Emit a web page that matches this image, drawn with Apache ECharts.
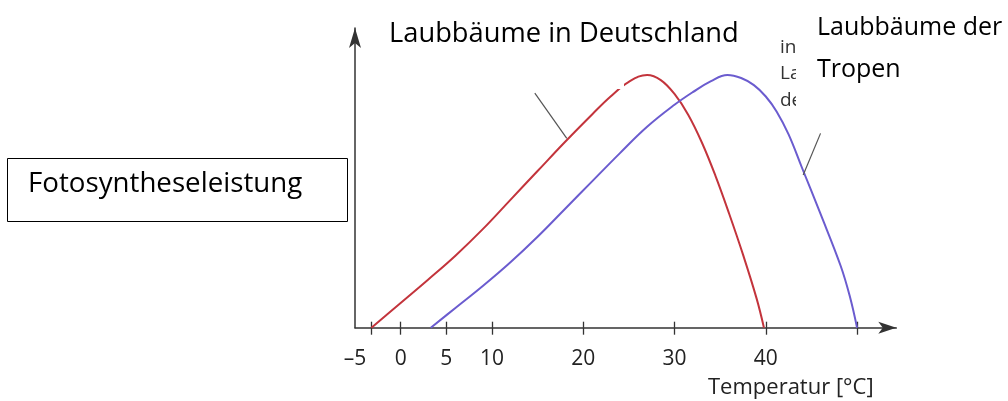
<!DOCTYPE html>
<html><head><meta charset="utf-8">
<script src="https://cdn.jsdelivr.net/npm/echarts@6/dist/echarts.min.js"></script>
<style>html,body{margin:0;padding:0;background:#fff}#c{width:1008px;height:401px}</style>
</head><body><div id="c"></div>
<script>
// Data (x = temperature in °C, y = relative photosynthesis, peak = 100)
const redTemps   = [-3.2, 0, 3, 6, 9, 12, 15, 18, 21, 23, 25, 27, 28.5, 30, 31.5, 33, 34.5, 36, 37.5, 39, 39.8];
const redValues  = [0, 9.8, 19, 28.5, 39, 50.5, 62, 73.5, 84.5, 91.5, 97.3, 100, 98, 92.5, 84.3, 73.3, 60, 45, 29, 11.5, 0];
const blueTemps  = [3.3, 6, 9, 12, 15, 18, 21, 24, 27, 30, 32, 34, 35.8, 37.3, 38.7, 40, 41.2, 42.5, 44, 46, 48.2, 49.2, 50];
const blueValues = [0, 7.8, 16.5, 25.8, 36, 47, 58, 69, 79.5, 88.2, 93.2, 97.6, 100, 98.8, 96, 91.5, 85.5, 76.5, 63, 45, 24.5, 12.5, 0];
const tickValues  = [-3.2, 0, 5, 10, 20, 30, 40, 50];
const labelValues = [-5, 0, 5, 10, 20, 30, 40];
const pointerRed  = [[14.7, 92.8], [18.2, 74.9]];
const pointerBlue = [[46.0, 76.9], [44.1, 60.4]];
const labelRed   = 'Laubbäume in Deutschland';
const labelBlue1 = 'Laubbäume der';
const labelBlue2 = 'Tropen';
const yTitle = 'Fotosyntheseleistung';
const xTitle = 'Temperatur [°C]';
const fragments = ['in', 'La', 'de'];

const zip = (a, b) => a.map((v, i) => [v, b[i]]);
const axisColor = '#333';
const labelFont = '"Open Sans", sans-serif';
const bigFont = '"Open Sans", sans-serif';

const chart = echarts.init(document.getElementById('c'), null, {renderer: 'canvas'});
const option = {
  animation: false,
  backgroundColor: '#fff',
  grid: {left: 355, right: 111.7, top: 28, bottom: 73.3, containLabel: false},
  xAxis: [{
    type: 'value', min: -5, max: 54.3,
    axisLine: {show: true, onZero: false, lineStyle: {color: axisColor, width: 1.5}, symbol: ['none', 'arrow'], symbolSize: [9, 18]},
    axisTick: {show: true, length: 7, lineStyle: {color: axisColor, width: 1.3}, customValues: tickValues},
    axisLabel: {show: true, customValues: labelValues, margin: 21, color: '#222', fontSize: 21, fontFamily: labelFont,
      formatter: v => (v < 0 ? '\u2013' + Math.abs(v) : String(v))},
    splitLine: {show: false}
  }, {
    type: 'value', min: -5, max: 54.3, position: 'bottom',
    axisLine: {show: false, onZero: false},
    axisTick: {show: true, inside: true, length: 6, lineStyle: {color: axisColor, width: 1.3}, customValues: tickValues},
    axisLabel: {show: false},
    splitLine: {show: false}
  }],
  yAxis: {
    type: 'value', min: 0, max: 118.6,
    axisLine: {show: true, onZero: false, lineStyle: {color: axisColor, width: 1.5}, symbol: ['none', 'arrow'], symbolSize: [9, 20]},
    axisTick: {show: false}, axisLabel: {show: false}, splitLine: {show: false}
  },
  series: [{
    type: 'line', data: zip(redTemps, redValues), smooth: 0.4, showSymbol: false,
    lineStyle: {color: '#c3343c', width: 2}, z: 3,
    markLine: {silent: true, symbol: 'none', label: {show: false},
      lineStyle: {color: '#555', width: 1.2, type: 'solid'},
      data: [[{coord: pointerRed[0]}, {coord: pointerRed[1]}]]}
  }, {
    type: 'line', data: zip(blueTemps, blueValues), smooth: 0.4, showSymbol: false,
    lineStyle: {color: '#6b5ccf', width: 2}, z: 3,
    markLine: {silent: true, symbol: 'none', label: {show: false},
      lineStyle: {color: '#555', width: 1.2, type: 'solid'},
      data: [[{coord: pointerBlue[0]}, {coord: pointerBlue[1]}]]}
  }],
  graphic: [
    {type: 'rect', z: 100, shape: {x: 380, y: 0, width: 244, height: 89}, style: {fill: '#fff'}},
    {type: 'text', z: 101, x: 780, y: 48, style: {text: fragments[0], font: '19px ' + labelFont, fill: '#333', verticalAlign: 'middle'}},
    {type: 'text', z: 101, x: 780, y: 74, style: {text: fragments[1], font: '19px ' + labelFont, fill: '#333', verticalAlign: 'middle'}},
    {type: 'text', z: 101, x: 780, y: 101, style: {text: fragments[2], font: '19px ' + labelFont, fill: '#333', verticalAlign: 'middle'}},
    {type: 'rect', z: 102, shape: {x: 796, y: 0, width: 212, height: 120}, style: {fill: '#fff'}},
    {type: 'text', z: 103, x: 389, y: 34, style: {text: labelRed, font: '27.3px ' + bigFont, fill: '#000', verticalAlign: 'middle'}},
    {type: 'text', z: 103, x: 817, y: 28, style: {text: labelBlue1, font: '25px ' + bigFont, fill: '#000', verticalAlign: 'middle'}},
    {type: 'text', z: 103, x: 817, y: 70, style: {text: labelBlue2, font: '25px ' + bigFont, fill: '#000', verticalAlign: 'middle'}},
    {type: 'rect', z: 103, shape: {x: 7.5, y: 158.5, width: 340, height: 63}, style: {fill: '#fff', stroke: '#000', lineWidth: 1}},
    {type: 'text', z: 104, x: 28, y: 184, style: {text: yTitle, font: '27.7px ' + bigFont, fill: '#000', verticalAlign: 'middle'}},
    {type: 'text', z: 103, x: 708, y: 387.5, style: {text: xTitle, font: '22px ' + labelFont, fill: '#222', verticalAlign: 'middle'}}
  ]
};
chart.setOption(option);
</script>
</body></html>
